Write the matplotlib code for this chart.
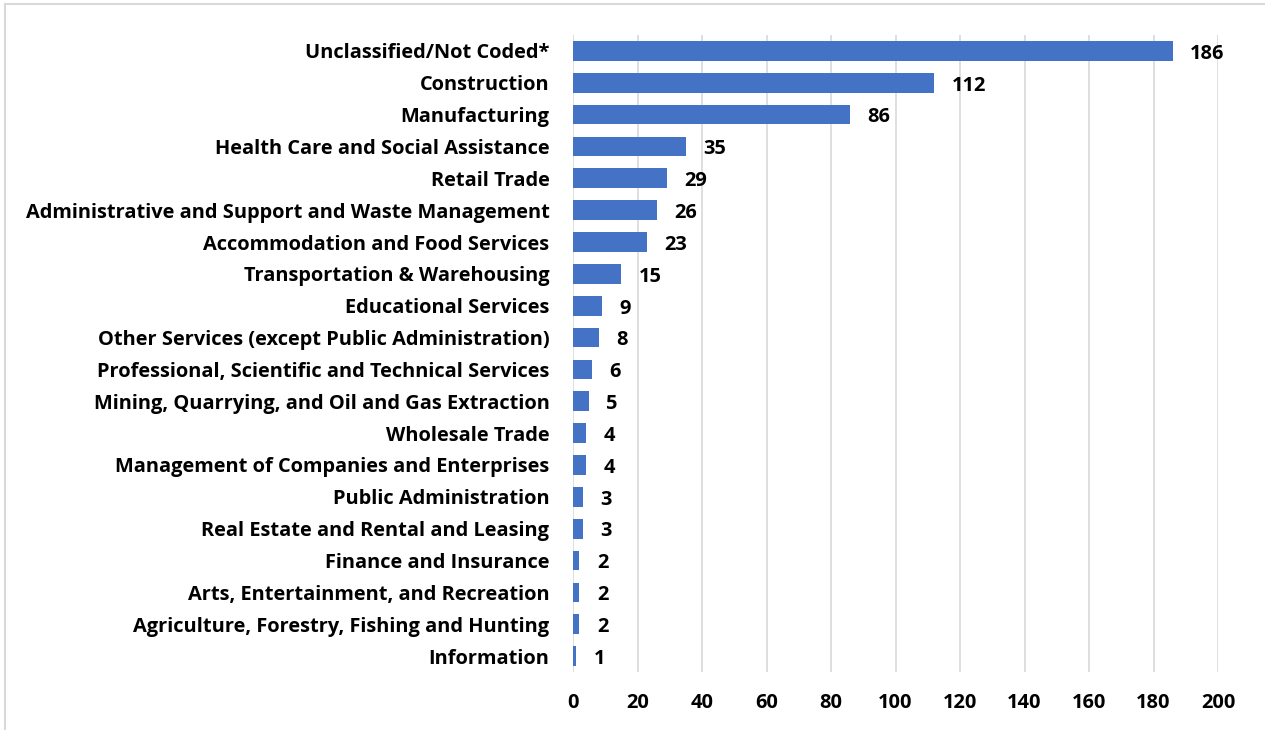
import matplotlib
matplotlib.use("Agg")
import matplotlib.pyplot as plt
from matplotlib.lines import Line2D

categories = [
    "Unclassified/Not Coded*",
    "Construction",
    "Manufacturing",
    "Health Care and Social Assistance",
    "Retail Trade",
    "Administrative and Support and Waste Management",
    "Accommodation and Food Services",
    "Transportation & Warehousing",
    "Educational Services",
    "Other Services (except Public Administration)",
    "Professional, Scientific and Technical Services",
    "Mining, Quarrying, and Oil and Gas Extraction",
    "Wholesale Trade",
    "Management of Companies and Enterprises",
    "Public Administration",
    "Real Estate and Rental and Leasing",
    "Finance and Insurance",
    "Arts, Entertainment, and Recreation",
    "Agriculture, Forestry, Fishing and Hunting",
    "Information",
]
counts = [186, 112, 86, 35, 29, 26, 23, 15, 9, 8, 6, 5, 4, 4, 3, 3, 2, 2, 2, 1]
x_ticks = [0, 20, 40, 60, 80, 100, 120, 140, 160, 180, 200]

plt.rcParams["font.family"] = ["Open Sans", "DejaVu Sans"]
plt.rcParams["font.weight"] = "bold"
FS = 14.4

fig = plt.figure(figsize=(12.65, 7.3), dpi=100)
ax = fig.add_axes([573 / 1265, 1 - 672 / 730, (1218 - 573) / 1265, (672 - 35) / 730])

ypos = list(range(len(categories)))
bars = ax.barh(ypos, counts, height=0.62, color="#4472C4", zorder=3)
ax.set_ylim(len(categories) - 0.5, -0.5)
ax.set_xlim(0, 200)
ax.set_yticks(ypos)
ax.set_yticklabels(categories, fontsize=FS, fontweight="bold")
ax.set_xticks(x_ticks)
ax.set_xticklabels([str(t) for t in x_ticks], fontsize=FS, fontweight="bold")
ax.tick_params(axis="both", length=0)
ax.tick_params(axis="y", pad=17)
ax.tick_params(axis="x", pad=15)
ax.xaxis.grid(True, color="#d9d9d9", linewidth=1.2, zorder=0)
for s in ax.spines.values():
    s.set_visible(False)

for rect, v in zip(bars, counts):
    ax.annotate(str(v), (rect.get_width(), rect.get_y() + rect.get_height() / 2),
                xytext=(12.5, -2), textcoords="offset points",
                ha="left", va="center", fontsize=FS, fontweight="bold")

# light chart-area frame along the top and left edges
fig.add_artist(Line2D([5 / 1265, 5 / 1265], [0, 1 - 4 / 730], transform=fig.transFigure,
                      color="#d9d9d9", linewidth=1.5))
fig.add_artist(Line2D([5 / 1265, 1], [1 - 4 / 730, 1 - 4 / 730], transform=fig.transFigure,
                      color="#d9d9d9", linewidth=1.5))

fig.savefig("out.png", dpi=100, facecolor="white")
